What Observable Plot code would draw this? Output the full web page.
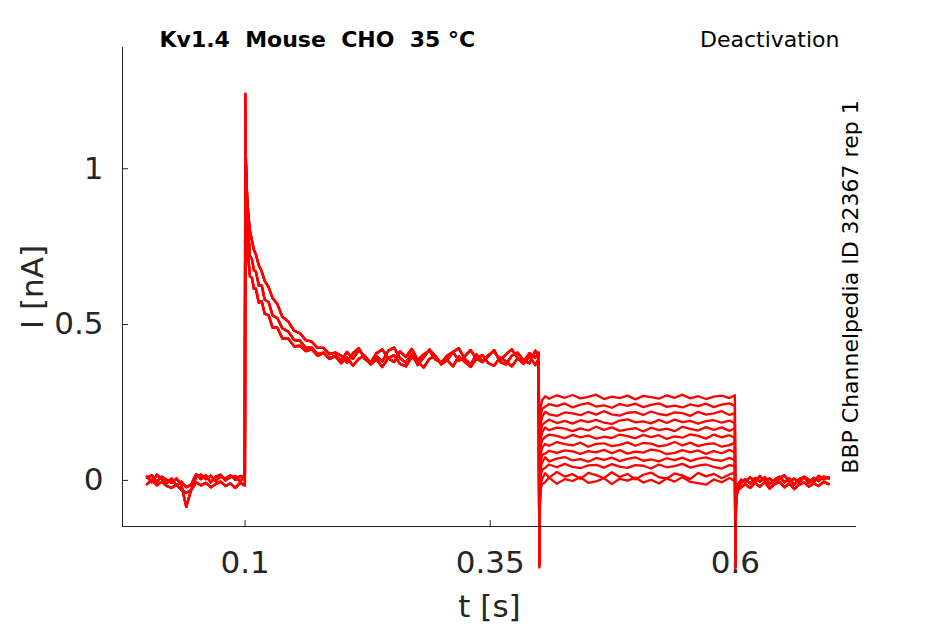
<!DOCTYPE html>
<html><head><meta charset="utf-8">
<script src="https://cdn.jsdelivr.net/npm/d3@7"></script>
<script src="https://cdn.jsdelivr.net/npm/@observablehq/plot@0.6"></script>
<style>
html,body{margin:0;padding:0;background:#fff;}
svg text{white-space:pre;}
</style></head><body><div id="chart"></div>
<script>
const titleText = "Kv1.4  Mouse  CHO  35 °C";
const protocolText = "Deactivation";
const idText = "BBP Channelpedia ID 32367 rep 1";
const xLabel = "t [s]";
const yLabel = "I [nA]";
const xTicks = [0.1, 0.35, 0.6];
const yTicks = [0, 0.5, 1];
const xDomain = [-0.025, 0.7235];
const yDomain = [-0.148, 1.389];

// baseline segment (0 – 0.1 s)
const tPre = [0, 0.005, 0.01, 0.015, 0.02, 0.025, 0.03, 0.035, 0.04, 0.045, 0.05, 0.055, 0.06, 0.065, 0.07, 0.075, 0.08, 0.085, 0.09, 0.095, 0.0998];
const preA = [0.008, 0.016, -0.004, 0.012, 0.002, -0.008, 0.006, -0.014, -0.085, -0.030, 0.010, 0.018, 0.004, 0.015, -0.002, 0.012, 0.006, 0.016, 0.002, 0.014, 0.008];
const preB = [-0.012, 0.002, -0.016, -0.004, -0.018, -0.024, -0.014, -0.030, -0.040, -0.032, -0.006, -0.016, -0.008, -0.022, -0.012, -0.004, -0.018, -0.010, -0.024, -0.008, -0.016];
const preC = [0.012, -0.006, 0.018, 0.004, -0.010, 0.006, -0.016, -0.004, -0.022, -0.014, 0.020, 0.004, 0.016, -0.006, 0.012, 0.018, 0.000, 0.010, 0.014, -0.004, 0.016];

// activation segment (0.1 – 0.4 s)
const tAct = [0.1002, 0.1006, 0.101, 0.1015, 0.102, 0.103, 0.104, 0.105, 0.107, 0.109, 0.111, 0.114, 0.117, 0.120, 0.124, 0.128, 0.133, 0.138, 0.144, 0.150, 0.156, 0.162, 0.168, 0.174, 0.180, 0.186, 0.192,
  0.198, 0.204, 0.210, 0.216, 0.222, 0.228, 0.234, 0.240, 0.246, 0.252, 0.258, 0.264, 0.270, 0.276, 0.282, 0.288, 0.294, 0.300, 0.306, 0.312, 0.318, 0.324, 0.330, 0.336, 0.342, 0.348, 0.354, 0.360, 0.366, 0.372, 0.378, 0.384, 0.390, 0.396, 0.3995];
const actA = [1.24, 1.10, 0.95, 0.85, 0.78, 0.72, 0.69, 0.655, 0.65, 0.615, 0.615, 0.57, 0.575, 0.535, 0.53, 0.49, 0.49, 0.455, 0.455, 0.43, 0.432, 0.415, 0.42, 0.40, 0.408, 0.392, 0.40,
  0.385, 0.412, 0.390, 0.418, 0.398, 0.378, 0.408, 0.420, 0.392, 0.380, 0.414, 0.396, 0.422, 0.386, 0.404, 0.416, 0.388, 0.378, 0.400, 0.412, 0.384, 0.398, 0.418, 0.390, 0.380, 0.402, 0.414, 0.386, 0.404, 0.420, 0.392, 0.382, 0.408, 0.394, 0.410];
const actB = [1.15, 1.08, 1.00, 0.92, 0.86, 0.79, 0.765, 0.72, 0.71, 0.675, 0.67, 0.625, 0.625, 0.58, 0.572, 0.53, 0.52, 0.488, 0.478, 0.45, 0.448, 0.425, 0.426, 0.405, 0.41, 0.39, 0.398,
  0.376, 0.394, 0.368, 0.390, 0.400, 0.372, 0.388, 0.364, 0.392, 0.402, 0.374, 0.366, 0.396, 0.382, 0.362, 0.390, 0.400, 0.372, 0.386, 0.366, 0.398, 0.380, 0.364, 0.390, 0.402, 0.376, 0.368, 0.394, 0.382, 0.366, 0.392, 0.374, 0.398, 0.370, 0.390];
const actC = [1.06, 1.04, 1.00, 0.96, 0.92, 0.87, 0.83, 0.80, 0.77, 0.74, 0.725, 0.69, 0.67, 0.64, 0.62, 0.585, 0.565, 0.525, 0.51, 0.48, 0.472, 0.45, 0.445, 0.425, 0.425, 0.405, 0.41,
  0.400, 0.378, 0.408, 0.424, 0.390, 0.374, 0.398, 0.382, 0.416, 0.426, 0.392, 0.378, 0.406, 0.370, 0.394, 0.420, 0.398, 0.374, 0.386, 0.412, 0.424, 0.390, 0.372, 0.404, 0.382, 0.398, 0.418, 0.380, 0.372, 0.400, 0.410, 0.384, 0.376, 0.416, 0.400];

// deactivation segment (0.4 – 0.6 s), one per test step
const tDe = [0.4, 0.4006, 0.4015, 0.403, 0.406, 0.41, 0.418, 0.426, 0.434, 0.442, 0.45, 0.458, 0.466, 0.474, 0.482, 0.49, 0.498, 0.506, 0.514, 0.522, 0.53, 0.538, 0.546, 0.554, 0.562, 0.57, 0.578, 0.586, 0.594, 0.5995];
const de1 = [-0.275, -0.05, 0.237, 0.257, 0.270, 0.262, 0.273, 0.265, 0.274, 0.263, 0.268, 0.275, 0.261, 0.269, 0.264, 0.272, 0.260, 0.271, 0.267, 0.262, 0.273, 0.265, 0.275, 0.263, 0.270, 0.261, 0.269, 0.272, 0.264, 0.273];
const de2 = [-0.27, -0.05, 0.21, 0.23, 0.236, 0.245, 0.238, 0.247, 0.234, 0.243, 0.248, 0.237, 0.241, 0.233, 0.245, 0.239, 0.246, 0.235, 0.242, 0.247, 0.236, 0.240, 0.234, 0.244, 0.238, 0.246, 0.235, 0.243, 0.247, 0.239];
const de3 = [-0.265, -0.05, 0.184, 0.204, 0.220, 0.212, 0.207, 0.218, 0.215, 0.209, 0.220, 0.211, 0.222, 0.212, 0.208, 0.217, 0.219, 0.210, 0.221, 0.213, 0.209, 0.218, 0.216, 0.207, 0.220, 0.211, 0.215, 0.222, 0.210, 0.216];
const de4 = [-0.27, -0.055, 0.158, 0.178, 0.186, 0.195, 0.184, 0.191, 0.182, 0.193, 0.187, 0.194, 0.185, 0.181, 0.192, 0.196, 0.186, 0.189, 0.183, 0.194, 0.184, 0.195, 0.187, 0.191, 0.182, 0.190, 0.193, 0.185, 0.192, 0.183];
const de5 = [-0.26, -0.06, 0.134, 0.154, 0.170, 0.161, 0.169, 0.166, 0.158, 0.167, 0.160, 0.172, 0.162, 0.170, 0.159, 0.164, 0.168, 0.157, 0.169, 0.161, 0.166, 0.158, 0.172, 0.165, 0.160, 0.171, 0.162, 0.170, 0.159, 0.167];
const de6 = [-0.27, -0.06, 0.11, 0.13, 0.139, 0.147, 0.143, 0.135, 0.146, 0.138, 0.144, 0.134, 0.140, 0.136, 0.147, 0.142, 0.135, 0.146, 0.139, 0.145, 0.133, 0.141, 0.137, 0.148, 0.143, 0.134, 0.147, 0.138, 0.145, 0.136];
const de7 = [-0.265, -0.065, 0.085, 0.105, 0.117, 0.111, 0.123, 0.116, 0.112, 0.121, 0.108, 0.117, 0.119, 0.110, 0.114, 0.122, 0.111, 0.120, 0.118, 0.109, 0.113, 0.123, 0.112, 0.121, 0.110, 0.116, 0.119, 0.108, 0.113, 0.121];
const de8 = [-0.27, -0.07, 0.062, 0.082, 0.086, 0.095, 0.088, 0.096, 0.093, 0.085, 0.094, 0.090, 0.098, 0.087, 0.097, 0.086, 0.092, 0.089, 0.099, 0.095, 0.084, 0.088, 0.097, 0.090, 0.096, 0.085, 0.094, 0.087, 0.098, 0.089];
const de9 = [-0.265, -0.07, 0.04, 0.058, 0.074, 0.061, 0.070, 0.075, 0.064, 0.068, 0.060, 0.072, 0.066, 0.073, 0.062, 0.069, 0.074, 0.063, 0.067, 0.061, 0.071, 0.065, 0.073, 0.062, 0.070, 0.074, 0.066, 0.063, 0.072, 0.065];
const de10 = [-0.27, -0.075, 0.015, 0.035, 0.040, 0.051, 0.042, 0.053, 0.043, 0.039, 0.048, 0.050, 0.041, 0.052, 0.044, 0.040, 0.049, 0.047, 0.038, 0.051, 0.042, 0.046, 0.053, 0.041, 0.047, 0.051, 0.043, 0.038, 0.049, 0.046];
const de11 = [-0.275, -0.08, -0.01, 0.005, 0.023, 0.009, 0.027, 0.012, 0.020, 0.005, 0.024, 0.017, 0.007, 0.026, 0.011, 0.021, 0.003, 0.018, 0.025, 0.010, 0.006, 0.022, 0.016, 0.004, 0.024, 0.013, 0.021, 0.007, 0.019, 0.025];
const de12 = [-0.28, -0.085, -0.025, -0.012, -0.006, 0.009, -0.011, 0.004, -0.002, 0.010, -0.008, -0.003, 0.007, -0.012, 0.005, -0.001, 0.009, -0.007, 0.002, -0.010, 0.006, -0.004, 0.011, -0.005, -0.009, -0.014, 0.003, -0.006, 0.008, -0.003];

// tail segment (0.6 – 0.695 s)
const tTail = [0.6, 0.6006, 0.6015, 0.603, 0.606, 0.61, 0.615, 0.62, 0.625, 0.63, 0.635, 0.64, 0.645, 0.65, 0.655, 0.66, 0.665, 0.67, 0.675, 0.68, 0.685, 0.69, 0.695];
const tailA = [-0.28, -0.07, -0.035, -0.02, -0.008, 0.004, -0.010, 0.008, -0.004, 0.010, -0.012, 0.002, 0.012, -0.006, 0.006, -0.014, 0.004, 0.010, -0.008, 0.008, -0.002, 0.012, 0.006];
const tailB = [-0.27, -0.08, -0.045, -0.03, -0.022, -0.012, -0.024, -0.008, -0.020, -0.006, -0.026, -0.012, -0.004, -0.022, -0.010, -0.028, -0.014, -0.006, -0.020, -0.010, -0.018, -0.004, -0.012];
const tailC = [-0.275, -0.06, -0.03, -0.012, 0.002, -0.006, 0.010, -0.004, 0.014, -0.002, 0.006, -0.010, 0.008, 0.016, -0.004, 0.006, -0.008, 0.012, 0.002, -0.006, 0.014, 0.004, 0.010];

const pres = [preA, preB, preC];
const acts = [actA, actB, actC];
const tails = [tailA, tailB, tailC];
const deacts = [de1, de2, de3, de4, de5, de6, de7, de8, de9, de10, de11, de12];

const rows = [];
function addSeg(k, ts, vs) {
  ts.forEach((t, j) => { if (vs[j] != null) rows.push({k, t, i: vs[j]}); });
}
deacts.forEach((de, k) => {
  const s = k % 3;
  addSeg(k, tPre, pres[s]);
  addSeg(k, tAct, acts[s]);
  addSeg(k, tDe, de);
  addSeg(k, tTail, tails[s]);
});

const axisColor = "#262626";
const chart = Plot.plot({
  width: 945, height: 624,
  marginLeft: 122, marginRight: 89, marginTop: 47, marginBottom: 98,
  x: {domain: xDomain},
  y: {domain: yDomain},
  style: {fontFamily: "'DejaVu Sans', sans-serif", color: axisColor, background: "#fff", overflow: "visible"},
  marks: [
    Plot.line(rows, {x: "t", y: "i", z: "k", stroke: "#ff0000", strokeWidth: 2.3}),
    Plot.ruleX([xDomain[0]], {stroke: axisColor, strokeWidth: 1}),
    Plot.ruleY([yDomain[0]], {stroke: axisColor, strokeWidth: 1}),
    Plot.axisY(yTicks, {anchor: "left", tickSize: 6, dx: 6, tickPadding: 19, fontSize: 31, label: null, tickFormat: d => String(d)}),
    Plot.axisX(xTicks, {anchor: "bottom", tickSize: 6, dy: -6, tickPadding: 24, fontSize: 31, label: null, tickFormat: d => String(d)}),
    Plot.text([yLabel], {text: d => d, frameAnchor: "left", rotate: -90, dx: -80, textAnchor: "middle", lineAnchor: "bottom", fontSize: 31, fill: axisColor}),
    Plot.text([xLabel], {text: d => d, frameAnchor: "bottom", dy: 90, textAnchor: "middle", lineAnchor: "bottom", fontSize: 31, fill: axisColor}),
    Plot.text([titleText], {text: d => d, frameAnchor: "top-left", dx: 37, dy: -1, textAnchor: "start", lineAnchor: "bottom", fontSize: 22, fontWeight: "bold", fill: "#000"}),
    Plot.text([protocolText], {text: d => d, frameAnchor: "top-right", dx: -17, dy: -1, textAnchor: "end", lineAnchor: "bottom", fontSize: 22, fill: "#000"}),
    Plot.text([idText], {text: d => d, frameAnchor: "right", rotate: -90, dx: 1, textAnchor: "middle", lineAnchor: "bottom", fontSize: 22, fill: "#000"})
  ]
});
document.getElementById("chart").appendChild(chart);
</script>
</body></html>
